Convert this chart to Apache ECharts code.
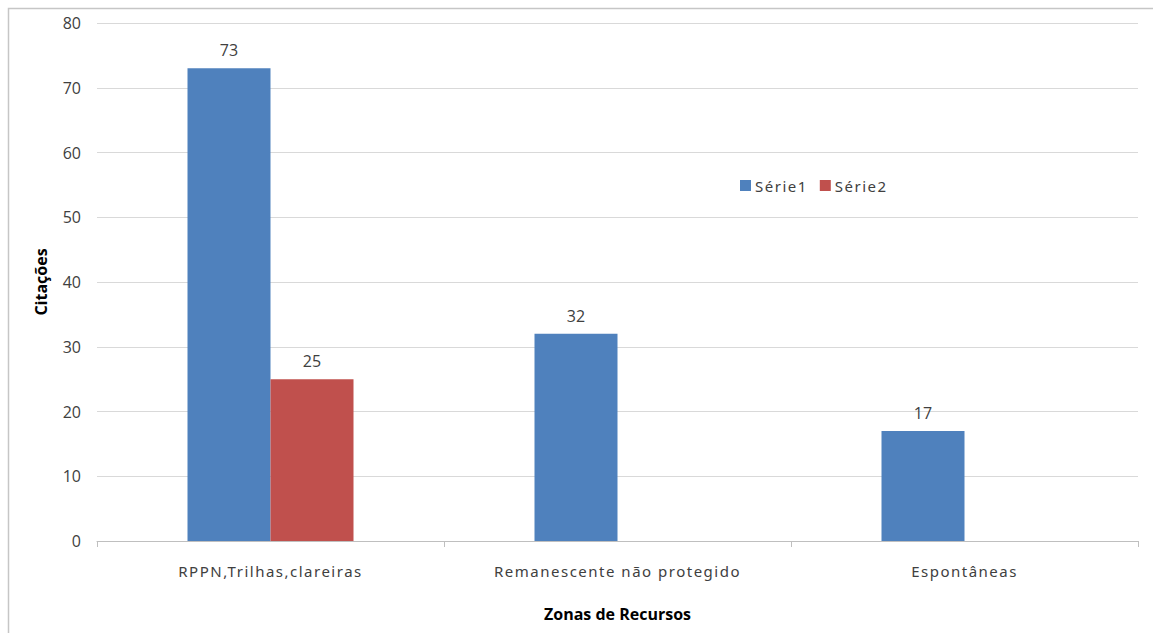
<!DOCTYPE html>
<html>
<head>
<meta charset="utf-8">
<script src="https://cdn.jsdelivr.net/npm/echarts@6/dist/echarts.min.js"></script>
<style>
  html, body { margin: 0; padding: 0; background: #fff; }
  #chart { width: 1153px; height: 633px; }
  /* category names and legend entries are set with wider tracking */
  #chart svg text[style*="Noto Sans"] { letter-spacing: 1.5px; }
</style>
</head>
<body>
<div id="chart"></div>
<script>
// Citações por zona de recursos
const categories = ['RPPN,Trilhas,clareiras', 'Remanescente não protegido', 'Espontâneas'];
const serie1 = [73, 32, 17];
const serie2 = [25, null, null];
const yTicks = [0, 10, 20, 30, 40, 50, 60, 70, 80];

const FONT = '"Open Sans", "Liberation Sans", sans-serif';
const SPACED = '"Noto Sans", sans-serif';
const TEXT = '#404040';

const chart = echarts.init(document.getElementById('chart'), null, { renderer: 'svg' });

const labelStyle = {
  show: true,
  position: 'top',
  distance: 10,
  color: TEXT,
  fontFamily: FONT,
  fontSize: 16
};

chart.setOption({
  animation: false,
  backgroundColor: '#fff',
  graphic: [{
    type: 'rect',
    shape: { x: 8.5, y: 8.5, width: 1160, height: 640 },
    style: { fill: 'none', stroke: '#c6c6c6', lineWidth: 1.5 },
    silent: true
  }],
  legend: {
    left: 735,
    top: 173,
    itemWidth: 11,
    itemHeight: 11,
    itemGap: 21,
    icon: 'rect',
    textStyle: { color: TEXT, fontFamily: SPACED, fontSize: 15, padding: [0, 0, 0, -1] },
    data: ['Série1', 'Série2']
  },
  grid: { left: 97, right: 15, top: 23, bottom: 92, containLabel: false },
  xAxis: {
    type: 'category',
    data: categories,
    name: 'Zonas de Recursos',
    nameLocation: 'middle',
    nameGap: 65,
    nameTextStyle: { color: '#000', fontFamily: FONT, fontSize: 16, fontWeight: 'bold' },
    axisLine: { lineStyle: { color: '#bfbfbf', width: 1 } },
    axisTick: { show: true, length: 6, lineStyle: { color: '#bfbfbf' } },
    axisLabel: { color: TEXT, fontFamily: SPACED, fontSize: 15, margin: 22 }
  },
  yAxis: {
    type: 'value',
    min: yTicks[0],
    max: yTicks[yTicks.length - 1],
    interval: yTicks[1] - yTicks[0],
    name: 'Citações',
    nameLocation: 'middle',
    nameGap: 48,
    nameTextStyle: { color: '#000', fontFamily: FONT, fontSize: 16, fontWeight: 'bold' },
    axisLine: { show: false },
    axisTick: { show: false },
    axisLabel: { color: TEXT, fontFamily: FONT, fontSize: 16, margin: 16 },
    splitLine: { lineStyle: { color: '#d9d9d9', width: 1 } }
  },
  series: [
    {
      name: 'Série1',
      type: 'bar',
      data: serie1,
      barWidth: 83,
      barGap: '0%',
      itemStyle: { color: '#4f81bd' },
      label: labelStyle
    },
    {
      name: 'Série2',
      type: 'bar',
      data: serie2,
      barWidth: 83,
      barGap: '0%',
      itemStyle: { color: '#c0504d' },
      label: labelStyle
    }
  ]
});
</script>
</body>
</html>
